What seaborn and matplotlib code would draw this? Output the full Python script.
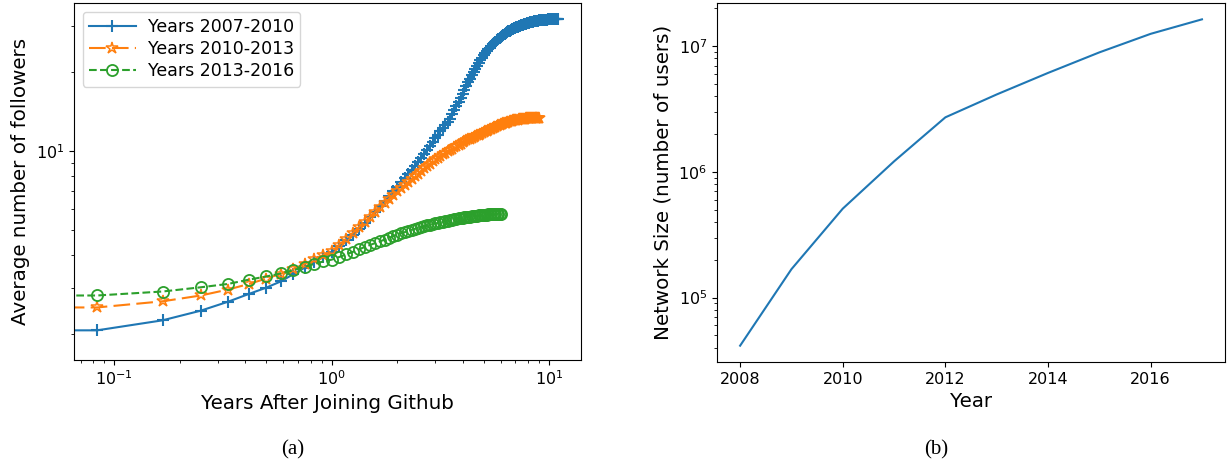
import matplotlib
matplotlib.use("Agg")
import matplotlib.pyplot as plt
import numpy as np
import seaborn as sns

# months after joining, in years (monthly samples)
months_a = np.arange(0, 133) / 12
months_b = np.arange(0, 109) / 12
months_c = np.arange(0, 73) / 12

followers_2007_2010 = [
    1.83, 2.06, 2.25, 2.45, 2.65, 2.84, 3.00, 3.17, 3.38, 3.58, 3.76, 3.93, 4.10,
    4.32, 4.55, 4.79, 5.03, 5.30, 5.58, 5.86, 6.14, 6.42, 6.71, 7.00, 7.30,
    7.58, 7.87, 8.17, 8.47, 8.78, 9.10, 9.43, 9.77, 10.12, 10.47, 10.83, 11.20,
    11.55, 11.90, 12.25, 12.60, 12.95, 13.30, 13.80, 14.32, 14.85, 15.40, 15.95, 16.50,
    17.10, 17.70, 18.30, 18.90, 19.45, 20.00, 20.58, 21.15, 21.70, 22.25, 22.78, 23.30,
    23.70, 24.10, 24.48, 24.85, 25.22, 25.60, 25.92, 26.22, 26.52, 26.82, 27.11, 27.40,
    27.62, 27.84, 28.05, 28.25, 28.45, 28.65, 28.82, 28.99, 29.16, 29.33, 29.50, 29.66,
    29.78, 29.90, 30.01, 30.12, 30.23, 30.33, 30.43, 30.53, 30.62, 30.71, 30.80, 30.88,
    30.96, 31.04, 31.11, 31.18, 31.24, 31.30, 31.36, 31.41, 31.46, 31.51, 31.55, 31.59,
    31.63, 31.66, 31.69, 31.72, 31.74, 31.76, 31.78, 31.80, 31.82, 31.83, 31.84, 31.85,
    31.86, 31.87, 31.88, 31.88, 31.89, 31.89, 31.90, 31.90, 31.90, 31.91, 31.91, 31.91,
]
followers_2010_2013 = [
    2.40, 2.52, 2.66, 2.80, 2.95, 3.10, 3.25, 3.39, 3.54, 3.70, 3.86, 4.00, 4.14,
    4.38, 4.62, 4.86, 5.11, 5.36, 5.60, 5.84, 6.08, 6.32, 6.55, 6.78, 7.00,
    7.21, 7.41, 7.61, 7.81, 8.01, 8.20, 8.39, 8.58, 8.76, 8.94, 9.12, 9.30,
    9.44, 9.58, 9.71, 9.84, 9.97, 10.10, 10.22, 10.34, 10.46, 10.57, 10.68, 10.80,
    10.89, 10.98, 11.07, 11.15, 11.23, 11.31, 11.39, 11.47, 11.55, 11.63, 11.71, 11.80,
    11.88, 11.96, 12.04, 12.11, 12.18, 12.25, 12.32, 12.39, 12.46, 12.52, 12.59, 12.65,
    12.70, 12.75, 12.80, 12.85, 12.89, 12.93, 12.97, 13.01, 13.05, 13.08, 13.12, 13.15,
    13.17, 13.19, 13.21, 13.23, 13.25, 13.27, 13.28, 13.30, 13.31, 13.32, 13.34, 13.35,
    13.36, 13.36, 13.37, 13.37, 13.38, 13.38, 13.39, 13.39, 13.39, 13.40, 13.40, 13.40,
]
followers_2013_2016 = [
    2.70, 2.80, 2.90, 3.01, 3.10, 3.22, 3.31, 3.40, 3.50, 3.60, 3.70, 3.78, 3.84,
    3.93, 4.02, 4.11, 4.20, 4.29, 4.37, 4.44, 4.51, 4.58, 4.65, 4.72, 4.78,
    4.84, 4.89, 4.95, 5.00, 5.04, 5.08, 5.12, 5.15, 5.19, 5.22, 5.25, 5.28,
    5.31, 5.34, 5.37, 5.40, 5.42, 5.44, 5.46, 5.48, 5.50, 5.52, 5.54, 5.55,
    5.57, 5.58, 5.60, 5.61, 5.63, 5.64, 5.65, 5.66, 5.67, 5.68, 5.69, 5.70,
    5.71, 5.71, 5.72, 5.72, 5.73, 5.74, 5.74, 5.75, 5.75, 5.75, 5.76, 5.76,
]

years = [2008, 2009, 2010, 2011, 2012, 2013, 2014, 2015, 2016, 2017]
network_size = [4.14e4, 1.68e5, 5.09e5, 1.21e6, 2.71e6, 4.12e6, 6.11e6, 8.9e6, 1.25e7, 1.63e7]

blue = "#1f77b4"
orange = "#ff7f0e"
green = "#2ca02c"

fig = plt.figure(figsize=(12.28, 4.65), dpi=100)
ax1 = fig.add_axes([0.0603, 0.2258, 0.4129, 0.7677])
ax2 = fig.add_axes([0.5839, 0.2215, 0.4137, 0.772])

sns.lineplot(x=months_a, y=followers_2007_2010, ax=ax1, color=blue, linewidth=1.5,
             marker="+", markersize=8, markeredgewidth=1.5, markeredgecolor=blue,
             label="Years 2007-2010")
sns.lineplot(x=months_b, y=followers_2010_2013, ax=ax1, color=orange, linewidth=1.5,
             linestyle=(0, (8, 3)), marker="*", markersize=9, markeredgewidth=1.1,
             markeredgecolor=orange, fillstyle="none", label="Years 2010-2013")
sns.lineplot(x=months_c, y=followers_2013_2016, ax=ax1, color=green, linewidth=1.5,
             linestyle="--", marker="o", markersize=8, markeredgewidth=1.3,
             markeredgecolor=green, fillstyle="none", label="Years 2013-2016")
ax1.set_xscale("log")
ax1.set_yscale("log")
ax1.set_xlabel("Years After Joining Github", fontsize=14.3)
ax1.set_ylabel("Average number of followers", fontsize=14.3)
ax1.tick_params(labelsize=11.5)
ax1.legend(loc="upper left", fontsize=12.5, handlelength=2.7, handletextpad=0.7,
           labelspacing=0.25, borderpad=0.35)

sns.lineplot(x=years, y=network_size, ax=ax2, color=blue, linewidth=1.5)
ax2.set_yscale("log")
ax2.set_xticks([2008, 2010, 2012, 2014, 2016])
ax2.set_xlabel("Year", fontsize=14.3)
ax2.set_ylabel("Network Size (number of users)", fontsize=14.3)
ax2.tick_params(labelsize=11.5)

fig.text(0.238, 0.022, "(a)", family="Liberation Serif", fontsize=15, ha="center")
fig.text(0.762, 0.022, "(b)", family="Liberation Serif", fontsize=15, ha="center")

fig.savefig("out.png", dpi=100)
